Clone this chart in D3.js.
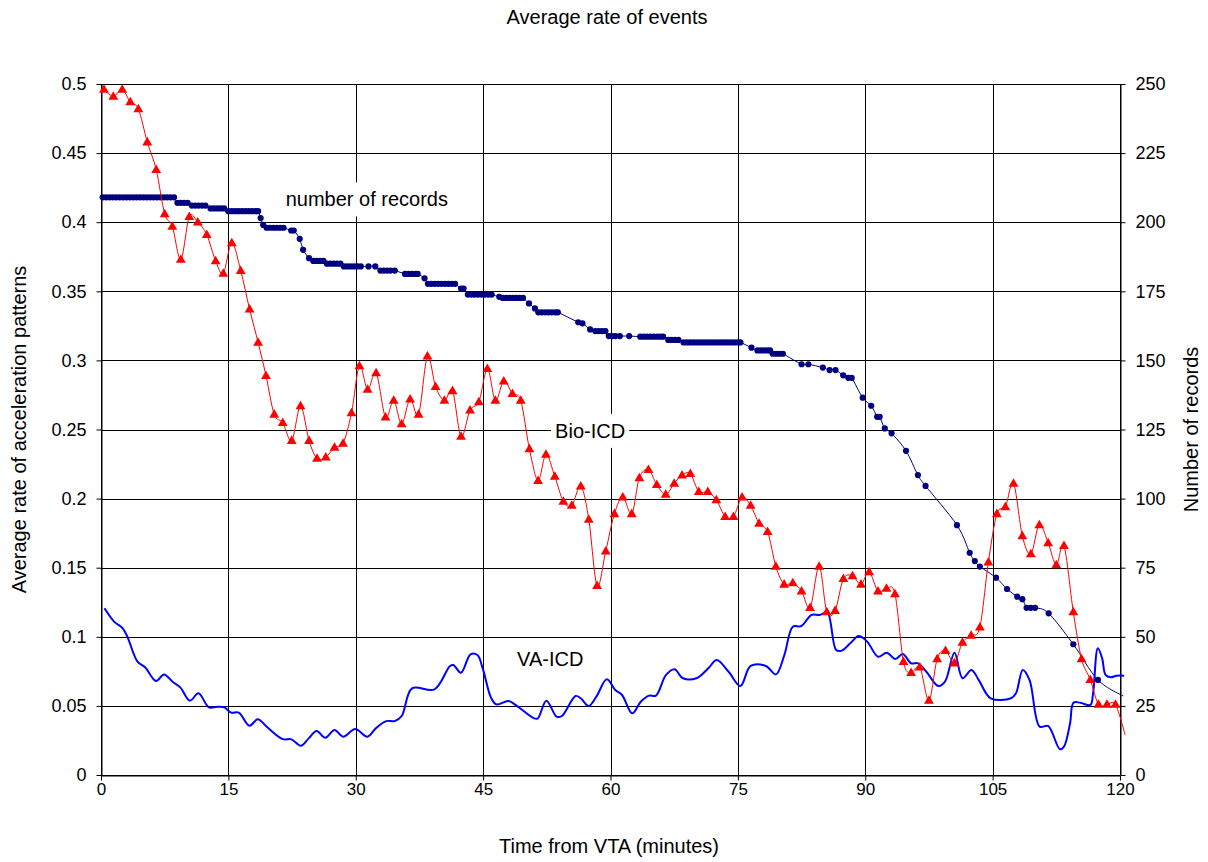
<!DOCTYPE html>
<html><head><meta charset="utf-8">
<script src="https://cdn.jsdelivr.net/npm/d3@7"></script>
<style>html,body{margin:0;padding:0;background:#fff;}svg{display:block;font-family:"Liberation Sans",Arial,sans-serif;}</style>
</head><body>
<svg id="chart" width="1208" height="862"></svg>
<script>
// ---------- data ----------
const chartTitle = "Average rate of events";
const xTicks = [0,15,30,45,60,75,90,105,120];
const yLeftTicks = [0,0.05,0.1,0.15,0.2,0.25,0.3,0.35,0.4,0.45,0.5];
const yRightTicks = [0,25,50,75,100,125,150,175,200,225,250];

// Bio-ICD (red triangles): time (min), rate
const bioT = [0.35,1.45,2.5,3.45,4.4,5.45,6.5,7.5,8.4,9.4,10.4,11.4,12.45,13.5,14.4,15.4,16.45,17.5,18.5,19.43,
20.4,21.4,22.46,23.5,24.5,25.44,26.47,27.5,28.5,29.5,30.43,31.4,32.4,33.5,34.47,35.4,36.4,37.4,38.44,39.4,
40.44,41.4,42.4,43.46,44.5,45.5,46.44,47.43,48.45,49.43,50.45,51.47,52.4,53.44,54.45,55.44,56.5,57.44,58.42,59.44,
60.46,61.45,62.5,63.4,64.47,65.45,66.5,67.5,68.43,69.4,70.4,71.46,72.47,73.5,74.48,75.5,76.5,77.5,78.5,79.47,
80.45,81.47,82.5,83.5,84.57,85.47,86.45,87.43,88.5,89.5,90.46,91.5,92.5,93.5,94.5,95.4,96.43,97.5,98.47,99.45,
100.5,101.45,102.47,103.5,104.5,105.5,106.5,107.46,108.5,109.5,110.5,111.54,112.5,113.4,114.5,115.47,116.5,117.47,118.46,119.47,120.6];
const bioV = [0.496,0.491,0.496,0.487,0.482,0.458,0.438,0.406,0.397,0.373,0.404,0.400,0.391,0.372,0.363,0.385,0.365,0.337,0.313,0.289,
0.261,0.255,0.242,0.267,0.242,0.229,0.230,0.237,0.240,0.262,0.296,0.279,0.291,0.259,0.271,0.254,0.272,0.261,0.303,0.281,
0.271,0.278,0.245,0.264,0.270,0.294,0.271,0.285,0.276,0.271,0.236,0.213,0.232,0.216,0.198,0.195,0.209,0.185,0.137,0.162,
0.189,0.201,0.189,0.215,0.221,0.210,0.203,0.211,0.217,0.218,0.205,0.205,0.199,0.187,0.187,0.201,0.195,0.182,0.176,0.151,
0.138,0.139,0.133,0.121,0.151,0.118,0.119,0.142,0.144,0.138,0.147,0.133,0.135,0.131,0.082,0.074,0.078,0.054,0.084,0.090,
0.081,0.096,0.101,0.107,0.154,0.189,0.194,0.211,0.173,0.160,0.181,0.168,0.152,0.166,0.118,0.084,0.069,0.051,0.051,0.051,0.029];

// VA-ICD (blue line): time (min), rate
const vaT = [0.41,1.54,2.56,3.17,4.3,5.19,6.49,7.42,8.43,9.33,10.47,11.48,12.7,13.71,14.52,15.33,16.23,17.48,18.46,19.59,
21.41,22.43,23.52,24.46,25.39,26.41,27.5,28.52,29.94,31.36,32.37,33.59,34.6,35.41,36.63,39.27,41.1,41.5,42.39,43.52,
44.33,44.95,45.96,46.56,47.99,49.0,51.02,51.44,52.45,53.66,54.27,55.89,56.5,57.43,58.33,59.57,60.56,61.36,62.56,63.56,
64.55,65.35,66.54,67.54,68.53,70.12,71.52,72.51,73.91,75.3,76.5,78.29,79.48,80.47,81.47,82.47,83.66,84.65,85.53,86.57,
87.24,88.24,89.23,90.23,91.51,92.54,93.53,94.42,95.41,96.21,97.2,98.6,99.39,100.51,101.46,102.5,103.37,104.77,107.16,107.75,
108.55,109.35,110.54,111.53,112.93,113.4,114.12,114.52,115.32,116.51,116.83,117.39,117.9,118.3,118.9,119.62,120.49];
const vaV = [0.1206,0.111,0.1061,0.099,0.082,0.078,0.068,0.0728,0.0675,0.0634,0.0538,0.0591,0.049,0.0494,0.049,0.0451,0.0451,0.0357,0.0403,0.0345,
0.026,0.0258,0.0212,0.0265,0.0318,0.027,0.0326,0.0277,0.0333,0.0277,0.0338,0.039,0.039,0.0427,0.0627,0.062,0.0789,0.0796,0.074,0.0873,
0.0868,0.0772,0.0555,0.0511,0.0535,0.0499,0.041,0.041,0.0538,0.0422,0.0427,0.0572,0.0555,0.0499,0.0567,0.0692,0.0615,0.0579,0.0446,0.053,
0.0574,0.0574,0.0724,0.0765,0.07,0.07,0.0772,0.0832,0.0747,0.0644,0.0789,0.0789,0.0728,0.0868,0.1073,0.1078,0.1158,0.1158,0.1177,0.0904,
0.09,0.0953,0.1006,0.0965,0.0856,0.0885,0.0839,0.0876,0.0808,0.0808,0.0747,0.0644,0.0675,0.0885,0.07,0.076,0.0687,0.0555,0.0555,0.0591,
0.076,0.0687,0.035,0.0355,0.0186,0.0205,0.0374,0.0523,0.0523,0.0507,0.0591,0.0917,0.0844,0.0724,0.0707,0.0719,0.0719];

// number of records (navy dots, right axis): time (min), count
const recT = [0.2,0.6,1.0,1.4,1.8,2.2,2.6,3.0,3.4,3.8,4.2,4.6,5.0,5.4,5.8,6.2,6.6,7.0,7.4,7.8,8.2,8.6,
9.0,9.4,9.8,10.2,10.7,11.1,11.5,11.9,12.3,12.9,13.3,13.7,14.1,14.5,
15.0,15.4,15.8,16.2,16.6,17.0,17.4,17.8,18.2,18.5,18.8,19.1,
19.5,19.9,20.3,20.7,21.1,21.5,22.4,22.7,23.4,23.8,24.5,
25.0,25.4,25.8,26.2,26.6,27.0,27.4,27.8,28.2,28.6,29.0,29.4,29.8,30.2,30.6,31.5,32.3,
32.9,33.3,33.7,34.1,34.6,35.8,36.2,36.6,37.0,37.3,38.1,
38.5,38.9,39.3,39.7,40.1,40.5,40.9,41.3,41.7,42.4,42.7,
43.2,43.6,44.0,44.4,44.8,45.2,45.6,46.0,46.9,47.3,47.7,48.1,48.5,48.9,49.3,49.7,50.4,51.1,
51.5,51.9,52.3,52.7,53.1,53.5,53.8,56.2,56.7,57.6,58.2,58.6,59.0,59.4,
59.8,60.2,60.6,61.1,62.2,63.5,63.9,64.3,64.7,65.1,65.5,65.9,66.2,66.8,67.2,67.6,68.0,
68.6,69.0,69.4,69.8,70.2,70.6,71.0,71.4,71.8,72.2,72.6,73.0,73.4,73.8,74.2,74.6,75.0,75.3,
76.6,77.3,77.7,78.1,78.5,78.8,79.1,79.5,79.9,80.3,82.5,83.3,85.0,85.8,86.5,87.4,88.0,88.4,
89.7,90.7,91.4,91.7,92.3,93.1,94.8,96.2,97.1,100.8,102.3,102.9,103.5,105.4,106.7,107.9,108.5,
109.0,109.5,110.0,111.6,114.5,117.4,120.4];
const recN = [209,209,209,209,209,209,209,209,209,209,209,209,209,209,209,209,209,209,209,209,209,209,
207,207,207,207,206,206,206,206,206,205,205,205,205,205,
204,204,204,204,204,204,204,204,204,204,201.5,199,
198,198,198,198,198,198,197,197,194,190,187,
186,186,186,186,185,185,185,185,185,184,184,184,184,184,184,184,184,
182.5,182.5,182.5,182.5,182.5,181.3,181.3,181.3,181.3,181.3,179.7,
177.7,177.7,177.7,177.7,177.7,177.7,177.7,177.7,177.7,176,176,
173.8,173.8,173.8,173.8,173.8,173.8,173.8,173.8,173,172.6,172.6,172.6,172.6,172.6,172.6,172.6,170.6,168.8,
167.4,167.4,167.4,167.4,167.4,167.4,167.4,163.8,163.4,161.2,160.6,160.6,160.6,160.6,
158.8,158.8,158.8,158.8,158.8,158.6,158.6,158.6,158.6,158.6,158.6,158.6,158.6,157.4,157.4,157.4,157.4,
156.5,156.5,156.5,156.5,156.5,156.5,156.5,156.5,156.5,156.5,156.5,156.5,156.5,156.5,156.5,156.5,156.5,156.5,
154.6,153.6,153.6,153.6,153.6,153.6,152.4,152.4,152.4,152.4,148.6,148.6,147.4,146.5,146.5,144.6,143.7,143.7,
136.5,133.6,129.6,129.6,125.4,123.6,117.3,108.5,104.6,90.4,80.4,77.4,75.4,71.4,67.3,64.5,63.6,
60.5,60.5,60.5,58.5,47.3,34.4,28.6];

const labels = [
  {text:"number of records", t:31.3, v:0.4165},
  {text:"Bio-ICD", t:57.6, v:0.249},
  {text:"VA-ICD", t:52.9, v:0.0839}
];

// ---------- drawing ----------
const svg = d3.select("#chart");
const L=101, R=1120, T=84, B=775;
const x = d3.scaleLinear().domain([0,120]).range([L,R]);
const yL = d3.scaleLinear().domain([0,0.5]).range([B,T]);
const yR = d3.scaleLinear().domain([0,250]).range([B,T]);
const font = '"Liberation Sans",Arial,sans-serif';

// gridlines
const g = svg.append("g");
g.selectAll("line.h").data(yLeftTicks).join("line")
  .attr("x1",L).attr("x2",R).attr("y1",d=>Math.round(yL(d))+0.5).attr("y2",d=>Math.round(yL(d))+0.5)
  .attr("stroke","#000").attr("stroke-width",1);
g.selectAll("line.v").data(xTicks).join("line")
  .attr("y1",T).attr("y2",B).attr("x1",d=>Math.round(x(d))+0.5).attr("x2",d=>Math.round(x(d))+0.5)
  .attr("stroke","#000").attr("stroke-width",1);

// axes
function styleAxis(sel, size){
  sel.select(".domain").attr("stroke","#000");
  sel.selectAll(".tick line").attr("stroke","#000");
  sel.selectAll("text").attr("font-family",font).attr("font-size",size).attr("fill","#000");
}
svg.append("g").attr("transform",`translate(${L+0.5},0)`)
  .call(d3.axisLeft(yL).tickValues(yLeftTicks).tickSize(5).tickSizeOuter(0).tickPadding(10).tickFormat(d=>String(+d.toFixed(2))))
  .call(styleAxis, 18);
svg.append("g").attr("transform",`translate(${R+0.5},0)`)
  .call(d3.axisRight(yR).tickValues(yRightTicks).tickSize(5).tickSizeOuter(0).tickPadding(10).tickFormat(d3.format("d")))
  .call(styleAxis, 18);
svg.append("g").attr("transform",`translate(0,${B+0.5})`)
  .call(d3.axisBottom(x).tickValues(xTicks).tickSize(5).tickSizeOuter(0).tickPadding(2).tickFormat(d3.format("d")))
  .call(styleAxis, 17);

// records series
const rec = recT.map((t,i)=>({t, n:recN[i]}));
svg.append("path").datum(rec)
  .attr("d", d3.line().x(d=>x(d.t)).y(d=>yR(d.n)).curve(d3.curveCardinal.tension(0)))
  .attr("fill","none").attr("stroke","#000080").attr("stroke-width",1);
svg.append("g").selectAll("circle").data(rec.filter(d=>d.t<=120)).join("circle")
  .attr("cx",d=>x(d.t)).attr("cy",d=>yR(d.n)).attr("r",3.1).attr("fill","#000080");

// VA-ICD
const va = vaT.map((t,i)=>({t, v:vaV[i]}));
svg.append("path").datum(va)
  .attr("d", d3.line().x(d=>x(d.t)).y(d=>yL(d.v)).curve(d3.curveCatmullRom.alpha(0.5)))
  .attr("fill","none").attr("stroke","#0000ff").attr("stroke-width",2);

// Bio-ICD
const bio = bioT.map((t,i)=>({t, v:bioV[i]}));
svg.append("path").datum(bio)
  .attr("d", d3.line().x(d=>x(d.t)).y(d=>yL(d.v)).curve(d3.curveCardinal.tension(0)))
  .attr("fill","none").attr("stroke","#ff0000").attr("stroke-width",1);
svg.append("g").selectAll("path").data(bio.filter(d=>d.t<=120)).join("path")
  .attr("transform",d=>`translate(${x(d.t)},${yL(d.v)+0.5})`)
  .attr("d", d3.symbol(d3.symbolTriangle, 42)())
  .attr("fill","#ff0000");

// in-plot labels with white boxes
labels.forEach(lb=>{
  const gg = svg.append("g");
  const tx = gg.append("text").attr("x",x(lb.t)).attr("y",yL(lb.v)).attr("text-anchor","middle")
    .attr("dominant-baseline","central").attr("font-family",font).attr("font-size",20).attr("fill","#000").text(lb.text);
  const bb = tx.node().getBBox();
  gg.insert("rect","text").attr("x",bb.x-4).attr("y",bb.y-6).attr("width",bb.width+8).attr("height",bb.height+12).attr("fill","#fff");
});

// titles
svg.append("text").attr("x",607).attr("y",24).attr("text-anchor","middle")
  .attr("font-family",font).attr("font-size",20).text(chartTitle);
svg.append("text").attr("x",609).attr("y",853).attr("text-anchor","middle")
  .attr("font-family",font).attr("font-size",20).text("Time from VTA (minutes)");
svg.append("text").attr("transform",`translate(26,${(T+B)/2}) rotate(-90)`).attr("text-anchor","middle")
  .attr("font-family",font).attr("font-size",20).text("Average rate of acceleration patterns");
svg.append("text").attr("transform",`translate(1198,${(T+B)/2}) rotate(-90)`).attr("text-anchor","middle")
  .attr("font-family",font).attr("font-size",20).text("Number of records");
</script>
</body></html>
